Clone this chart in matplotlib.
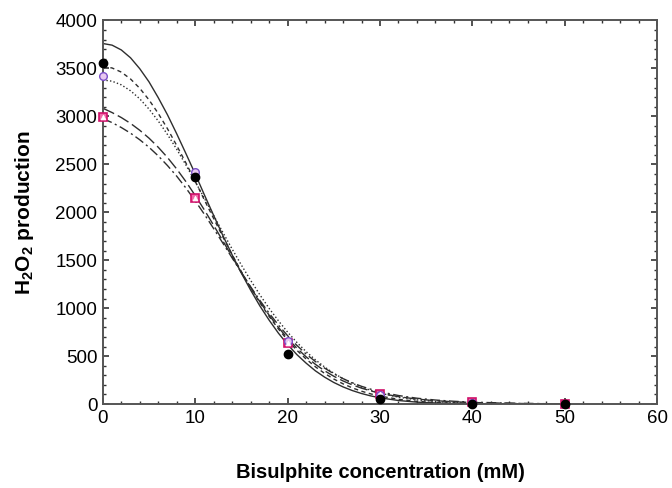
import matplotlib
matplotlib.use("Agg")
import matplotlib.pyplot as plt
from matplotlib.ticker import MultipleLocator

plt.rcParams['font.family'] = ['Liberation Sans', 'DejaVu Sans']
plt.rcParams['mathtext.fontset'] = 'custom'
plt.rcParams['mathtext.rm'] = 'Liberation Sans'
plt.rcParams['mathtext.bf'] = 'Liberation Sans:bold'

# Measured data (bisulphite concentration, mM)
conc = [0, 10, 20, 30, 40, 50]
h2o2_black = [3560, 2370, 520, 50, 5, 0]
h2o2_blue = [3420, 2420, 660, 90, 15, 0]
h2o2_magenta = [2990, 2150, 640, 100, 20, 0]

# Fitted curves
curve_x = [0, 1, 2, 3, 4, 5, 6, 7, 8, 9, 10, 11, 12, 13, 14, 15, 16, 17, 18,
           19, 20, 21, 22, 23, 24, 25, 26, 27, 28, 29, 30, 32, 34, 36, 38,
           40, 45, 50]
fit_solid = [3760, 3743, 3693, 3611, 3497, 3360, 3195, 3016, 2818, 2611, 2400,
             2180, 1966, 1756, 1555, 1365, 1188, 1023, 875, 740, 621, 516, 427,
             347, 281, 225, 179, 141, 110, 85, 65, 37, 20, 11, 5, 3, 0, 0]
fit_dashed = [3520, 3505, 3462, 3390, 3293, 3172, 3031, 2871, 2696, 2513,
              2323, 2127, 1934, 1742, 1557, 1380, 1213, 1057, 914, 784, 666,
              561, 470, 389, 320, 261, 211, 169, 134, 106, 83, 50, 28, 16, 8,
              4, 0, 0]
fit_dotted = [3380, 3367, 3329, 3267, 3183, 3076, 2952, 2811, 2657, 2492,
              2320, 2144, 1966, 1789, 1616, 1449, 1290, 1139, 998, 869, 750,
              643, 547, 462, 387, 321, 265, 217, 177, 143, 114, 72, 44, 26,
              15, 8, 2, 0]
fit_longdash = [3085, 3040, 2988, 2927, 2855, 2773, 2678, 2571, 2451, 2319,
                2175, 2023, 1863, 1700, 1535, 1372, 1215, 1066, 927, 800, 685,
                583, 493, 415, 347, 290, 241, 200, 166, 137, 113, 77, 52, 35,
                24, 16, 6, 2]
fit_dashdot = [2978, 2935, 2884, 2825, 2756, 2678, 2588, 2487, 2376, 2252,
               2119, 1978, 1829, 1677, 1523, 1371, 1223, 1081, 948, 825, 713,
               612, 522, 444, 375, 316, 265, 222, 185, 155, 128, 89, 61, 42,
               29, 20, 7, 2]

fig = plt.figure(figsize=(6.72, 4.88), dpi=100)
ax = fig.add_axes([0.153, 0.172, 0.825, 0.786])

lc = '#2e2e2e'
ax.plot(curve_x, fit_solid, color=lc, lw=1.0, ls='-')
ax.plot(curve_x, fit_dashed, color=lc, lw=1.0, ls=(0, (3, 2.5)))
ax.plot(curve_x, fit_dotted, color=lc, lw=1.0, ls=(0, (1, 1.6)))
ax.plot(curve_x, fit_longdash, color=lc, lw=1.0, ls=(0, (9, 3)))
ax.plot(curve_x, fit_dashdot, color=lc, lw=1.0, ls=(0, (7, 2.5, 1.5, 2.5)))

ax.plot(conc, h2o2_magenta, ls='none', marker='s', ms=6, mfc='#f06aa8',
        mec='#d0106a', mew=1.2, clip_on=False, zorder=5)
ax.plot(conc, h2o2_magenta, ls='none', marker='^', ms=3.5, mfc='white',
        mec='white', mew=0.5, clip_on=False, zorder=6)
ax.plot(conc, h2o2_blue, ls='none', marker='o', ms=5.5, mfc='#e8c8f0',
        mec='#7a4ec8', mew=1.0, clip_on=False, zorder=5)
ax.plot(conc, h2o2_black, ls='none', marker='o', ms=6, mfc='black',
        mec='black', clip_on=False, zorder=7)

ax.set_xlim(0, 60)
ax.set_ylim(0, 4000)
ax.xaxis.set_major_locator(MultipleLocator(10))
ax.xaxis.set_minor_locator(MultipleLocator(2))
ax.yaxis.set_major_locator(MultipleLocator(500))
ax.yaxis.set_minor_locator(MultipleLocator(100))
ax.tick_params(which='both', direction='in', top=True, right=True,
               labelsize=13.5, color='#333333', pad=4)
ax.tick_params(which='major', length=4, width=1.2)
ax.tick_params(which='minor', length=2, width=1)
for s in ax.spines.values():
    s.set_color('#555555')
    s.set_linewidth(1.4)

ax.set_xlabel('Bisulphite concentration (mM)', fontsize=14.5,
              fontweight='bold', labelpad=26)
ax.set_ylabel(r'$\mathbf{H_2O_2}$ production', fontsize=15,
              fontweight='bold', labelpad=14)

fig.savefig('out.png', dpi=100)
